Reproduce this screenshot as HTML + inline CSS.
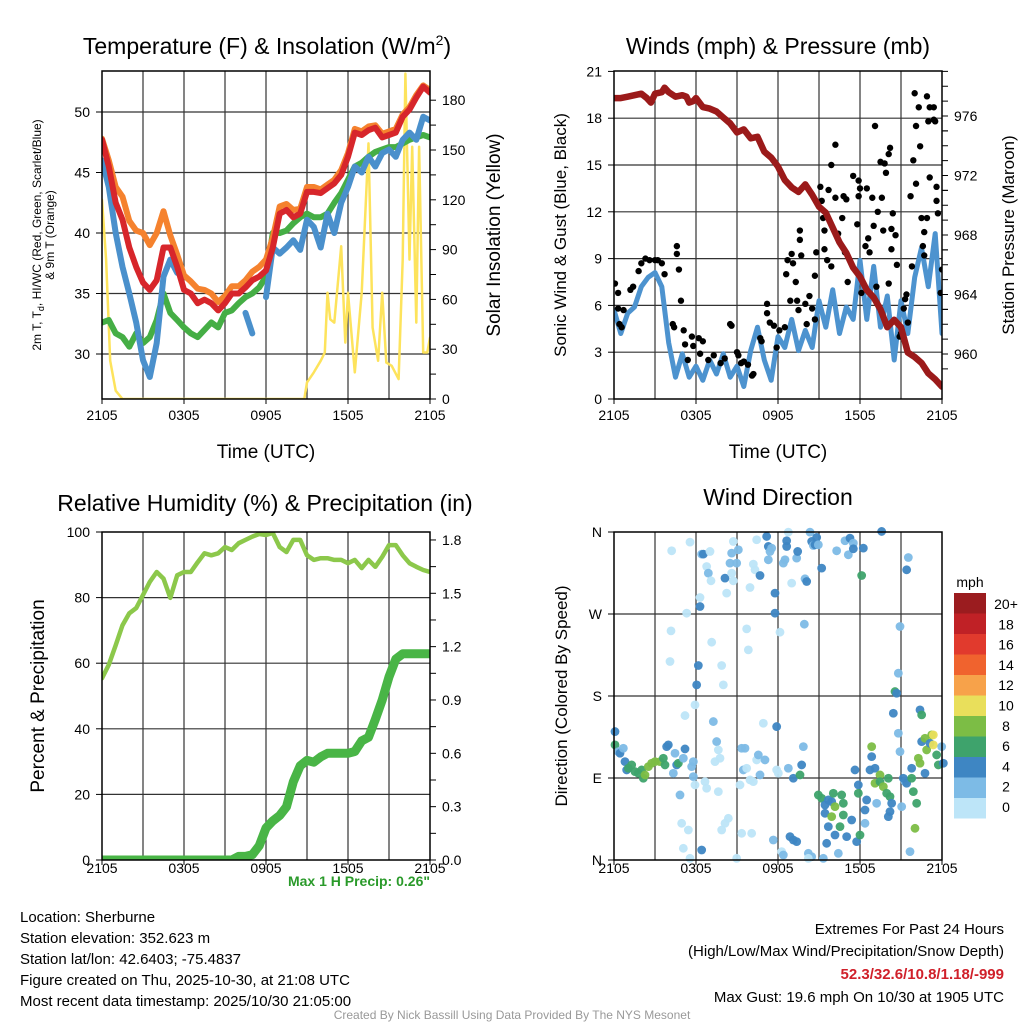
<!DOCTYPE html>
<html><head><meta charset="utf-8"><style>
html,body{margin:0;padding:0;background:#fff;}
svg{display:block;font-family:"Liberation Sans",sans-serif;}
</style></head><body>
<svg id="root" width="1024" height="1024" viewBox="0 0 1024 1024" xmlns="http://www.w3.org/2000/svg">
<defs>
<clipPath id="c1"><rect x="102" y="71" width="328" height="328"/></clipPath>
<clipPath id="c2"><rect x="614" y="71" width="328" height="328"/></clipPath>
<clipPath id="c3"><rect x="102" y="532" width="328" height="328"/></clipPath>
<clipPath id="c4"><rect x="614" y="532" width="328" height="328"/></clipPath>
</defs>
<rect x="0" y="0" width="1024" height="1024" fill="#fff"/>
<g id="grid"></g>
<g id="marks"></g>
<g id="frames"></g>
<g id="ticks" font-size="14" fill="#000"></g>

<text x="267" y="54" font-size="23" text-anchor="middle">Temperature (F) &amp; Insolation (W/m<tspan font-size="14" dy="-9">2</tspan><tspan dy="9">)</tspan></text>
<text x="778" y="54" font-size="23" text-anchor="middle">Winds (mph) &amp; Pressure (mb)</text>
<text x="265" y="511" font-size="23" text-anchor="middle">Relative Humidity (%) &amp; Precipitation (in)</text>
<text x="778" y="505" font-size="23" text-anchor="middle">Wind Direction</text>

<text x="266" y="458" font-size="19" text-anchor="middle">Time (UTC)</text>
<text x="778" y="458" font-size="19" text-anchor="middle">Time (UTC)</text>

<text transform="translate(41,235) rotate(-90)" font-size="12" text-anchor="middle">2m T, T<tspan font-size="9" dy="3">d</tspan><tspan dy="-3">, HI/WC (Red, Green, Scarlet/Blue)</tspan></text>
<text transform="translate(54,235) rotate(-90)" font-size="12" text-anchor="middle">&amp; 9m T (Orange)</text>
<text transform="translate(500,235) rotate(-90)" font-size="19" text-anchor="middle">Solar Insolation (Yellow)</text>
<text transform="translate(566,235) rotate(-90)" font-size="17" text-anchor="middle">Sonic Wind &amp; Gust (Blue, Black)</text>
<text transform="translate(1014,235) rotate(-90)" font-size="17" text-anchor="middle">Station Pressure (Maroon)</text>
<text transform="translate(44,696) rotate(-90)" font-size="19" text-anchor="middle">Percent &amp; Precipitation</text>
<text transform="translate(567,696) rotate(-90)" font-size="17" text-anchor="middle">Direction (Colored By Speed)</text>

<text x="430" y="886" font-size="14" font-weight="bold" fill="#2a9a2a" text-anchor="end">Max 1 H Precip: 0.26"</text>

<g font-size="15" fill="#000">
<text x="20" y="922">Location: Sherburne</text>
<text x="20" y="943">Station elevation: 352.623 m</text>
<text x="20" y="964">Station lat/lon: 42.6403; -75.4837</text>
<text x="20" y="985">Figure created on Thu, 2025-10-30, at 21:08 UTC</text>
<text x="20" y="1006">Most recent data timestamp: 2025/10/30 21:05:00</text>
</g>
<g font-size="15" fill="#000" text-anchor="end">
<text x="1004" y="934">Extremes For Past 24 Hours</text>
<text x="1004" y="956">(High/Low/Max Wind/Precipitation/Snow Depth)</text>
<text x="1004" y="979" font-weight="bold" fill="#d0202a">52.3/32.6/10.8/1.18/-999</text>
<text x="1004" y="1002">Max Gust: 19.6 mph On 10/30 at 1905 UTC</text>
</g>
<text x="512" y="1019" font-size="12" fill="#999" text-anchor="middle">Created By Nick Bassill Using Data Provided By The NYS Mesonet</text>

<g id="legend">
<text x="970" y="587" font-size="14" text-anchor="middle">mph</text>
</g>
</svg>
<script>
// ---------- DATA ----------
const hours = [];
for (let i = 0; i <= 48; i++) hours.push(i / 2);
const tempTicks = [30, 35, 40, 45, 50];
const solarTicks = [0, 30, 60, 90, 120, 150, 180];
const windTicks = [0, 3, 6, 9, 12, 15, 18, 21];
const presTicks = [960, 964, 968, 972, 976];
const rhTicks = [0, 20, 40, 60, 80, 100];
const precipTicks = ["0.0", "0.3", "0.6", "0.9", "1.2", "1.5", "1.8"];
const dirTicks = ["N", "E", "S", "W", "N"];
const timeTicks = ["2105", "0305", "0905", "1505", "2105"];

const temp2m = [47.7,45.5,42.5,41.1,38.8,37.2,35.9,35.3,36.1,38.8,38.8,37.2,35.3,35.0,34.2,34.5,34.2,33.6,34.2,35.0,35.0,35.5,36.1,36.4,36.9,38.8,41.6,41.9,41.3,41.6,43.4,43.4,43.3,43.7,44.1,44.8,46.3,48.3,48.1,48.5,48.7,47.9,48.1,48.3,49.6,50.2,51.2,52.1,51.6];
const temp9m = [47.8,46.0,43.8,43.0,41.0,40.2,40.0,39.0,40.0,41.8,39.8,38.2,36.5,36.0,35.4,35.3,35.0,34.3,34.8,35.6,35.6,36.1,36.8,37.2,37.8,39.6,42.2,42.4,41.9,42.0,43.8,43.8,43.6,44.0,44.4,45.2,46.6,48.6,48.4,48.8,48.9,48.2,48.4,48.6,49.8,50.4,51.4,52.2,51.8];
const windChill = [46.0,43.8,40.0,37.2,35.0,32.6,29.5,28.1,30.9,36.4,37.8,36.7,null,null,null,null,31.4,null,null,null,null,33.4,31.7,null,34.7,38.8,38.3,38.8,39.4,38.6,41.1,40.5,38.8,41.6,40.0,42.5,43.8,45.5,45.0,46.3,45.5,46.6,46.9,46.3,47.7,48.3,47.7,49.6,49.3];
const dewpoint = [32.6,32.8,31.7,31.4,30.6,31.7,30.9,31.4,32.8,35.0,33.4,32.8,32.2,31.7,31.4,32.0,32.6,32.2,33.4,33.6,34.2,34.7,35.0,35.5,36.4,40.0,40.0,40.2,40.8,41.3,41.6,41.3,41.3,41.6,42.5,43.3,44.4,45.5,45.8,46.3,46.7,46.9,47.1,47.1,47.4,47.7,47.9,48.1,47.9];
const solarTimes = [0,0.3,0.6,1,1.5,14.8,15,15.5,16,16.3,16.5,16.7,17,17.5,17.8,18,18.5,19,19.5,19.8,20.2,20.5,20.8,21.2,21.7,22,22.2,22.5,22.7,23,23.2,23.5,23.8,24];
const solarValues = [120,84,23,5,0,0,10,16,23,28,64,48,46,92,34,64,16,64,154,43,23,64,22,20,12,84,196,84,152,46,152,28,28,37];

const windSpeed = [5.7,4.2,5.5,5.9,7.2,7.8,8.1,7.2,3.6,1.4,2.9,1.4,2.1,1.2,2.5,1.6,2.9,1.4,2.1,0.8,3.1,4.6,2.5,1.2,4.0,3.3,5.1,3.1,4.4,3.3,6.3,4.6,7.0,4.2,5.9,5.1,8.9,5.1,8.5,4.6,6.6,2.5,6.3,4.2,7.8,9.7,7.2,10.6,4.2];
const gustTimes = [0.07,0.3,0.3,0.4,0.56,0.7,1.2,1.4,1.8,2.0,2.3,2.6,3.0,3.2,3.5,3.7,4.6,4.6,4.75,4.9,4.3,4.4,5.1,5.2,5.7,5.8,6.2,6.3,6.5,5.4,6.9,7.3,7.8,8.1,8.5,8.6,9.0,9.1,9.3,9.5,9.8,10.1,10.2,10.7,10.8,11.2,11.2,11.4,11.7,11.9,12.1,12.5,12.6,12.7,12.9,13.0,13.1,13.3,13.4,13.5,13.6,13.6,13.7,14.0,14.1,14.3,14.5,14.7,14.7,14.8,15.1,15.2,15.3,15.4,15.4,15.6,15.7,15.9,15.9,16.2,16.2,16.4,16.7,16.8,16.9,17.0,17.1,17.5,17.8,17.9,17.9,18.0,18.1,18.4,18.5,18.6,18.7,18.9,19.0,19.1,19.2,19.3,19.5,19.6,19.7,19.8,19.9,20.1,20.1,20.2,20.3,20.3,20.4,20.6,20.7,20.9,21.0,21.2,21.3,21.4,21.5,21.7,21.8,21.9,22.0,22.1,22.1,22.3,22.4,22.5,22.6,22.7,22.7,22.9,22.9,23.0,23.1,23.1,23.4,23.4,23.5,23.6,23.6,23.7,24.0,23.9];
const gustValues = [7.4,6.8,5.8,4.8,4.6,5.7,7.0,7.2,8.2,8.7,9.0,8.9,8.9,8.9,8.7,8.0,9.8,9.3,8.3,6.3,4.8,4.6,4.4,3.5,4.0,3.4,3.9,2.9,3.7,2.5,2.5,2.8,2.3,2.6,4.8,4.7,3.0,2.8,2.3,2.4,2.2,1.5,1.6,3.9,3.7,6.1,5.5,4.9,4.7,3.3,4.4,4.6,8.0,8.9,6.3,9.3,8.7,7.5,6.3,5.7,10.8,10.2,9.2,6.1,4.8,6.6,5.8,5.1,7.9,9.4,13.6,12.7,11.6,10.8,9.6,8.9,13.4,8.5,15.0,16.3,12.9,10.6,11.6,13.0,9.4,12.8,7.5,14.3,11.2,14.0,13.0,13.5,6.8,9.8,13.5,10.3,9.4,12.9,11.1,17.5,7.2,12.0,15.2,12.9,10.8,15.1,14.5,15.7,7.4,16.1,10.9,9.6,11.9,10.5,8.6,4.0,4.2,5.8,6.4,6.7,4.9,13.0,8.5,15.3,19.6,13.8,17.5,18.7,16.2,11.6,9.8,9.2,10.7,11.6,19.4,17.8,14.2,18.7,17.9,18.7,17.8,13.6,12.7,11.9,8.3,6.8];
const pressure = [977.2,977.2,977.3,977.4,977.5,977.2,976.9,977.5,977.6,977.9,977.6,977.3,977.4,977.3,976.9,977.0,977.2,976.6,976.5,976.3,975.9,975.5,974.9,975.1,974.5,974.6,973.6,973.2,972.6,971.7,971.2,970.9,971.4,970.7,969.9,969.5,968.5,967.5,966.8,965.8,965.2,964.3,963.8,963.0,961.8,962.3,961.8,960.1,959.8];
const presTimes = [0,0.5,1,1.5,2,2.4,2.7,3,3.5,3.7,4,4.5,5,5.3,5.5,5.8,6,6.5,7,7.5,8,8.5,9,9.5,10,10.5,11,11.5,12,12.5,13,13.5,14,14.5,15,15.5,16,16.5,17,17.5,18,18.5,19,19.5,20,20.5,21,21.5,22];
const presTail = [[22.5,959.4],[23,958.7],[23.5,958.3],[24,957.8]];

const rh = [55.4,59.5,65.5,71.6,75.2,76.8,80.8,84.8,87.8,85.8,79.9,86.8,87.8,87.8,90.8,93.5,92.9,93.5,95.4,94.5,96.6,97.6,98.6,99.4,99.1,99.7,95.4,93.9,97.6,97.6,92.9,91.5,92.0,92.0,91.5,91.5,90.5,91.5,89.0,91.5,89.4,92.4,96.0,96.0,92.9,90.5,89.4,88.4,87.8];
const precip = [0,0,0,0,0,0,0,0,0,0,0,0,0,0,0,0,0,0,0,0,0.02,0.02,0.03,0.08,0.18,0.22,0.25,0.30,0.44,0.53,0.56,0.55,0.58,0.60,0.60,0.60,0.60,0.61,0.67,0.69,0.79,0.90,1.03,1.13,1.16,1.16,1.16,1.16,1.16];

const dirZx = [30,30,40,45,55,60,65,70,80,90,100,110,115,120,130,140,150,165,175,180,185,190,205,210,215,220,235,240,260,265,265,270,300,305,325,335,340,345,330,340,225,230,250,350,360,370,235,255,290,395,405,410,420,415,425,435,445,455,460,465,475,480,515,515,520,550,565,585,590,595,410,440,505,530,535,555,565,575,610,620,610,655,640,650,660,670,680,685,690,710,715,660,680,715,740,670,705,690,725,755,765,665,700,750,760,760,785,780,780,800,800,795,810,810,825,815,825,835,845,850,855,860,855,850,870,875,880,885,865,880,885,900,895,905,920,925,935,890,930,915,920,940,945,960,945,950,950,960,965,975,980,985,985,995,1000,1010,1015,200,255,290,295,315,305,310,318,285,285,245,198,195,320,280,350,275,355,270,240,360,365,380,385,380,385,375,395,400,425,430,435,445,450,455,465,485,490,495,500,490,510,510,525,535,540,545,545,550,560,575,578,598,600,605,615,620,625,630,635,640,650,695,720,730,735,745,745,775,770,830,910,905];
const dirZy = [620,660,680,685,670,710,735,730,720,740,745,735,760,750,725,715,710,710,700,720,665,660,745,685,720,715,700,672,725,710,755,780,770,790,590,650,675,700,710,800,810,895,915,915,895,880,970,1000,975,1000,780,670,670,735,730,765,770,705,690,750,595,705,605,735,745,730,760,750,720,665,925,925,945,980,990,935,945,950,985,995,1000,1000,810,820,840,825,830,805,845,810,835,865,875,870,885,905,905,930,935,950,930,955,985,735,780,805,825,855,895,665,695,735,730,775,750,835,770,785,805,760,815,835,860,875,500,505,445,305,565,625,680,770,760,775,760,800,835,845,910,980,730,700,715,745,555,570,650,640,675,655,630,630,660,690,720,665,715,78,52,88,88,80,125,145,168,218,245,265,318,410,352,422,422,480,480,540,572,160,205,145,50,85,168,115,115,75,312,375,188,118,135,45,152,35,65,80,70,105,205,265,322,115,105,65,48,22,175,100,80,298,162,170,22,50,62,60,38,60,130,78,48,90,40,55,72,70,152,20,98,135];
const dirSpeed = [5,7,3,5,3,5,5,7,7,7,7,7,7,9,9,9,9,9,7,7,5,5,3,3,5,7,3,5,3,3,3,1,1,1,3,3,1,1,1,1,3,1,1,1,1,1,1,1,5,1,1,3,3,3,1,1,1,1,3,3,1,3,5,1,1,3,5,7,5,3,1,1,3,1,3,5,5,5,3,3,1,3,7,7,5,5,5,7,9,7,7,5,9,7,5,5,7,5,5,5,7,5,3,5,5,7,5,5,3,9,5,5,5,9,9,3,7,9,7,7,7,5,5,5,7,5,3,3,5,3,3,3,5,5,7,7,7,3,9,3,5,9,9,5,5,7,5,9,9,5,9,11,11,7,7,3,5,1,1,3,5,1,1,3,1,1,5,1,1,1,1,5,1,5,1,1,1,5,1,1,1,3,1,3,3,3,1,1,1,1,1,1,5,5,5,3,3,3,5,5,1,3,3,5,5,1,1,3,5,3,3,5,3,5,3,5,5,3,5,3,3,3,5,3,5,5,7,5,3,5,3,3];
const legendLabels = ["20+","18","16","14","12","10","8","6","4","2","0"];
const legendColors = ["#9b1c1f","#c02126","#e13a2d","#f0632e","#f7a24a","#e9df5b","#7cbd45","#3ea36c","#3e86c3","#7dbbe6","#bde5f8"];

// ---------- AXES ----------
const NS = "http://www.w3.org/2000/svg";
function mk(parent, tag, attrs, txt) {
  const e = document.createElementNS(NS, tag);
  for (const k in attrs) e.setAttribute(k, attrs[k]);
  if (txt !== undefined) e.textContent = txt;
  document.getElementById(parent).appendChild(e);
  return e;
}
const xL = t => 102 + t * 328 / 24;
const xR = t => 614 + t * 328 / 24;
const yTemp = v => 354 - (v - 30) * 12.1;
const ySol = v => 399 - v * 1.66;
const yWind = v => 399 - v * 15.6;
const yPres = p => 354 - (p - 960) * 14.875;
const yRH = v => 860 - v * 3.28;
const yPr = v => 860 - v * 177.8;
const yDir = d => 860 - d * 328 / 360;
const dirT = zx => (zx - 27) / 41;
const dirD = zy => (1005 - zy) * 0.3661;
function speedColor(s) {
  const idx = Math.min(10, Math.floor(s / 2));
  return legendColors[10 - idx];
}
function pathFrom(ts, vs, fx, fy) {
  let d = "", pen = false;
  for (let i = 0; i < ts.length; i++) {
    if (vs[i] === null) { pen = false; continue; }
    d += (pen ? "L" : "M") + fx(ts[i]).toFixed(1) + "," + fy(vs[i]).toFixed(1);
    pen = true;
  }
  return d;
}

// ---------- GRID & FRAMES ----------
const panels = [[102,71,349],[614,71,349],[102,532,341],[614,532,341]];
panels.forEach(([x0, y0, lblOff], pi) => {
  for (let h = 3; h < 24; h += 3) {
    const gx = x0 + h * 328 / 24;
    const g = mk("grid", "line", {x1: gx, y1: y0, x2: gx, y2: y0 + 328, stroke: "#333", "stroke-width": 1.2});
    
    
  }
  const f = mk("frames", "rect", {x: x0, y: y0, width: 328, height: 328, fill: "none", stroke: "#000", "stroke-width": 1.5});
  
  
  timeTicks.forEach((lab, i) => {
    const tx = x0 + i * 82;
    const tk = mk("ticks", "line", {x1: tx, y1: y0 + 328, x2: tx, y2: y0 + 333, stroke: "#000"});
    
    
    const tl = mk("ticks", "text", {x: tx, y: y0 + lblOff, "text-anchor": "middle"}, lab);
    
    
  });
});
function hGrid(y, x0) {
  const g = mk("grid", "line", {x1: x0, y1: y, x2: x0 + 328, y2: y, stroke: "#333", "stroke-width": 1.2});
  
  
}
function yTick(x, y, lab, side) {
  const tk = mk("ticks", "line", {x1: x, y1: y, x2: x + (side === "l" ? -6 : 6), y2: y, stroke: "#000"});
  
  
  if (lab === null) return;
  const tl = mk("ticks", "text", {x: x + (side === "l" ? -12 : 12), y: y + 5, "text-anchor": side === "l" ? "end" : "start"}, lab);
  
  
}
tempTicks.forEach(v => { hGrid(yTemp(v), 102); yTick(102, yTemp(v), String(v), "l"); });
solarTicks.forEach(v => { yTick(430, ySol(v), String(v), "r"); if (v < 180) yTick(430, ySol(v + 15), null, "r"); });
windTicks.forEach(v => { if (v > 0 && v < 21) hGrid(yWind(v), 614); yTick(614, yWind(v), String(v), "l"); });
presTicks.forEach(v => { yTick(942, yPres(v), String(v), "r"); [1,2,3].forEach(k => yTick(942, yPres(v + k), null, "r")); yTick(942, yPres(v - 1), null, "r"); });
rhTicks.forEach(v => { if (v > 0 && v < 100) hGrid(yRH(v), 102); yTick(102, yRH(v), String(v), "l"); });
precipTicks.forEach((lab, i) => { const v = i * 0.3; yTick(430, yPr(v), lab, "r"); if (i < 6) yTick(430, yPr(v + 0.15), null, "r"); });
dirTicks.forEach((lab, i) => { const d = i * 90; if (i > 0 && i < 4) hGrid(yDir(d), 614); yTick(614, yDir(d), lab, "l"); });

// ---------- SERIES ----------
function line(d, color, w, clip, name) {
  const p = mk("marks", "path", {d: d, fill: "none", stroke: color, "stroke-width": w, "stroke-linejoin": "round", "stroke-linecap": "round", "clip-path": "url(#" + clip + ")"});
  
  
}
line(pathFrom(solarTimes, solarValues, xL, ySol), "#fde35c", 2.5, "c1", "solar-insolation-line");
line(pathFrom(hours, dewpoint, xL, yTemp), "#45ae45", 6, "c1", "dewpoint-line");
line(pathFrom(hours, windChill, xL, yTemp), "#4a90cc", 6, "c1", "wind-chill-line");
line(pathFrom(hours, temp9m, xL, yTemp), "#f5822e", 6, "c1", "temp-9m-line");
line(pathFrom(hours, temp2m, xL, yTemp), "#d7262b", 6, "c1", "temp-2m-line");

line(pathFrom(hours, windSpeed, xR, yWind), "#4d93cf", 5, "c2", "wind-speed-line");
gustTimes.forEach((t, i) => {
  const c = mk("marks", "circle", {cx: xR(t), cy: yWind(gustValues[i]), r: 3.2, fill: "#000", "clip-path": "url(#c2)"});
  
  
});
const pT = presTimes.concat(presTail.map(p => p[0]));
const pV = pressure.concat(presTail.map(p => p[1]));
line(pathFrom(pT, pV, xR, yPres), "#9b1a1a", 6.5, "c2", "pressure-line");

line(pathFrom(hours, rh, xL, yRH), "#8cc84b", 4.5, "c3", "relative-humidity-line");
line(pathFrom(hours, precip, xL, yPr), "#49b546", 9, "c3", "precipitation-line");

dirZx.forEach((zx, i) => {
  const c = mk("marks", "circle", {cx: xR(dirT(zx)), cy: yDir(dirD(dirZy[i])), r: 4.4, fill: speedColor(dirSpeed[i]), "fill-opacity": 0.95});
  
  
});

// ---------- LEGEND ----------
legendColors.forEach((col, i) => {
  const r = mk("legend", "rect", {x: 954, y: 593 + i * 20.5, width: 32, height: 20.5, fill: col});
  
  
  const t = mk("legend", "text", {x: 1006, y: 609 + i * 20.3, "font-size": 14, "text-anchor": "middle"}, legendLabels[i]);
  
  
});
</script>
</body></html>
